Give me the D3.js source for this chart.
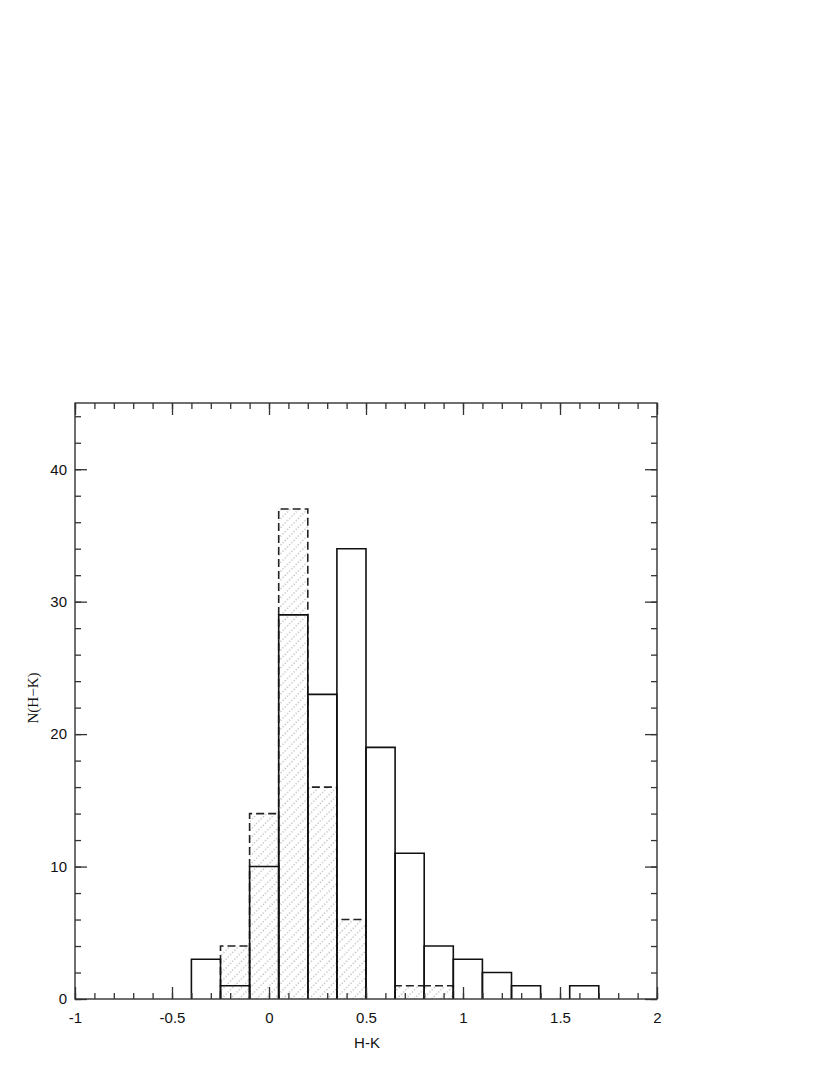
<!DOCTYPE html>
<html>
<head>
<meta charset="utf-8">
<script src="https://cdn.jsdelivr.net/npm/d3@7"></script>
<style>
html,body{margin:0;padding:0;background:#fff;}
svg{display:block;}
</style>
</head>
<body>
<svg id="chart" width="830" height="1075"></svg>
<script>
// Bin edges (H-K), width 0.15
const binStarts = [-0.40,-0.25,-0.10,0.05,0.20,0.35,0.50,0.65,0.80,0.95,1.10,1.25,1.40,1.55];
const binWidth = 0.15;
// Solid histogram counts
const solidCounts = [3,1,10,29,23,34,19,11,4,3,2,1,0,1];
// Dashed, hatched histogram counts
const dashedCounts = [0,4,14,37,16,6,0,1,1,0,0,0,0,0];
const xTickValues = [-1,-0.5,0,0.5,1,1.5,2];
const xTickLabels = ["-1","-0.5","0","0.5","1","1.5","2"];
const yTickValues = [0,10,20,30,40];
const yTickLabels = ["0","10","20","30","40"];
const xLabel = "H-K";
const yLabel = "N(H\u2212K)";

const svg = d3.select("#chart");
const L = 75, R = 657, T = 403, B = 999;
const x = d3.scaleLinear().domain([-1, 2]).range([L, R]);
const y = d3.scaleLinear().domain([0, 45]).range([B, T]);

const defs = svg.append("defs");
const pat = defs.append("pattern").attr("id","hatch")
  .attr("patternUnits","userSpaceOnUse").attr("width",6.2).attr("height",6.2)
  .attr("patternTransform","rotate(45)");
pat.append("line").attr("x1",1).attr("y1",0).attr("x2",1).attr("y2",6.2)
  .attr("stroke","#8a8a8a").attr("stroke-width",0.9).attr("stroke-dasharray","1.2,1.9");

const dashedData = binStarts.map((s,i)=>({s, v: dashedCounts[i]})).filter(d=>d.v>0);
const solidData = binStarts.map((s,i)=>({s, v: solidCounts[i]})).filter(d=>d.v>0);

// hatch fill
svg.append("g").selectAll("rect").data(dashedData).join("rect")
  .attr("x", d=>x(d.s)).attr("y", d=>y(d.v))
  .attr("width", d=>x(d.s+binWidth)-x(d.s)).attr("height", d=>y(0)-y(d.v))
  .attr("fill","url(#hatch)");
// dashed outlines
svg.append("g").selectAll("path").data(dashedData).join("path")
  .attr("d", d=>`M${x(d.s)},${y(0)}V${y(d.v)}H${x(d.s+binWidth)}V${y(0)}`)
  .attr("fill","none").attr("stroke","#222").attr("stroke-width",1.6)
  .attr("stroke-dasharray","8,4");
// solid bars
svg.append("g").selectAll("path").data(solidData).join("path")
  .attr("d", d=>`M${x(d.s)},${y(0)}V${y(d.v)}H${x(d.s+binWidth)}V${y(0)}`)
  .attr("fill","none").attr("stroke","#111").attr("stroke-width",1.6);

// axes
const axisColor = "#333";
function styleAxis(g){
  g.select(".domain").remove();
  g.selectAll("line").attr("stroke",axisColor).attr("stroke-width",1.3);
  g.selectAll("text").attr("fill","#111").style("font-family","'Liberation Sans', Arial, sans-serif").style("font-size","15px");
}
const xMinor = d3.range(-1, 2.0001, 0.1).map(v=>+v.toFixed(2));
const yMinor = d3.range(0, 45.0001, 2);

// bottom
svg.append("g").attr("transform",`translate(0,${B})`)
  .call(d3.axisBottom(x).tickValues(xMinor).tickSize(-6).tickFormat(""))
  .call(styleAxis);
svg.append("g").attr("transform",`translate(0,${B})`)
  .call(d3.axisBottom(x).tickValues(xTickValues).tickSize(-12).tickPadding(13)
    .tickFormat((d,i)=>xTickLabels[i]))
  .call(styleAxis);
// top
svg.append("g").attr("transform",`translate(0,${T})`)
  .call(d3.axisTop(x).tickValues(xMinor).tickSize(-6).tickFormat(""))
  .call(styleAxis);
svg.append("g").attr("transform",`translate(0,${T})`)
  .call(d3.axisTop(x).tickValues(xTickValues).tickSize(-12).tickFormat(""))
  .call(styleAxis);
// left
svg.append("g").attr("transform",`translate(${L},0)`)
  .call(d3.axisLeft(y).tickValues(yMinor).tickSize(-6).tickFormat(""))
  .call(styleAxis);
svg.append("g").attr("transform",`translate(${L},0)`)
  .call(d3.axisLeft(y).tickValues(yTickValues).tickSize(-12).tickPadding(8)
    .tickFormat((d,i)=>yTickLabels[i]))
  .call(styleAxis);
// right
svg.append("g").attr("transform",`translate(${R},0)`)
  .call(d3.axisRight(y).tickValues(yMinor).tickSize(-6).tickFormat(""))
  .call(styleAxis);
svg.append("g").attr("transform",`translate(${R},0)`)
  .call(d3.axisRight(y).tickValues(yTickValues).tickSize(-12).tickFormat(""))
  .call(styleAxis);

// frame
svg.append("rect").attr("x",L).attr("y",T).attr("width",R-L).attr("height",B-T)
  .attr("fill","none").attr("stroke",axisColor).attr("stroke-width",1.4);

// labels
svg.append("text").attr("x", x(0.5)+1).attr("y", 1048).attr("text-anchor","middle")
  .style("font-family","'Liberation Sans', Arial, sans-serif").style("font-size","15px").attr("fill","#111")
  .text(xLabel);
svg.append("text").attr("transform","translate(38,698) rotate(-90)").attr("text-anchor","middle")
  .style("font-family","'Liberation Serif', 'Times New Roman', serif").style("font-size","15px").attr("fill","#111")
  .text(yLabel);
</script>
</body>
</html>
